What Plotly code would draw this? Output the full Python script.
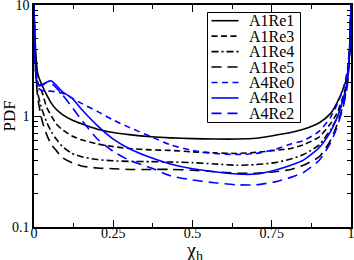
import plotly.graph_objects as go

chi_h = [0, 0.004, 0.012, 0.025, 0.04, 0.055, 0.07, 0.09, 0.12, 0.15, 0.2, 0.25, 0.3,
         0.37, 0.43, 0.5, 0.57, 0.64, 0.7, 0.76, 0.81, 0.85, 0.9, 0.935, 0.955, 0.975,
         0.988, 0.996, 1.0]

A1Re1 = [10, 4.5, 2.4, 1.9, 1.55, 1.3, 1.15, 1.03, 0.92, 0.85, 0.76, 0.71, 0.68,
         0.65, 0.635, 0.625, 0.62, 0.62, 0.63, 0.67, 0.71, 0.76, 0.87, 1.05, 1.3, 1.75,
         2.3, 4, 10]
A1Re3 = [10, 3.5, 2.0, 1.65, 1.2, 1.0, 0.85, 0.75, 0.66, 0.61, 0.56, 0.53, 0.51,
         0.495, 0.49, 0.475, 0.465, 0.46, 0.47, 0.49, 0.51, 0.55, 0.65, 0.85, 1.05, 1.5,
         2.1, 4, 10]
A1Re4 = [10, 3.0, 1.6, 1.15, 0.88, 0.72, 0.62, 0.53, 0.46, 0.43, 0.405, 0.395, 0.39,
         0.388, 0.385, 0.38, 0.37, 0.36, 0.365, 0.38, 0.41, 0.45, 0.55, 0.75, 0.95, 1.4,
         2.0, 4, 10]
A1Re5 = [10, 2.8, 1.45, 0.92, 0.68, 0.55, 0.49, 0.42, 0.38, 0.355, 0.34, 0.335, 0.33,
         0.33, 0.33, 0.325, 0.315, 0.305, 0.305, 0.315, 0.33, 0.36, 0.43, 0.6, 0.82, 1.25,
         1.9, 4, 10]
A4Re0 = [10, 3.0, 1.8, 1.7, 1.68, 1.67, 1.65, 1.6, 1.45, 1.3, 1.1, 0.92, 0.79,
         0.65, 0.55, 0.49, 0.46, 0.45, 0.46, 0.5, 0.56, 0.6, 0.73, 0.97, 1.25, 1.75,
         2.5, 4.5, 10]
A4Re1 = [10, 3.0, 1.9, 1.88, 2.02, 2.07, 1.9, 1.65, 1.45, 1.15, 0.82, 0.62, 0.51,
         0.42, 0.37, 0.335, 0.315, 0.30, 0.30, 0.325, 0.36, 0.40, 0.52, 0.72, 0.95, 1.4,
         2.0, 4, 10]
A4Re2 = [10, 3.0, 1.9, 1.92, 2.0, 1.97, 1.8, 1.55, 1.2, 0.92, 0.62, 0.48, 0.40,
         0.34, 0.29, 0.265, 0.25, 0.24, 0.24, 0.255, 0.28, 0.31, 0.40, 0.57, 0.78, 1.2,
         1.85, 4, 10]

x_ticks = [0, 0.25, 0.5, 0.75, 1]
x_ticklabels = ["0", "0.25", "0.5", "0.75", "1"]
x_minor = [0.125, 0.375, 0.625, 0.875]
y_ticks = [0.1, 1, 10]
y_ticklabels = ["0.1", "1", "10"]
y_minor = [0.2, 0.3, 0.4, 0.5, 0.6, 0.7, 0.8, 0.9, 2, 3, 4, 5, 6, 7, 8, 9]
x_title = "χ<sub>h</sub>"
y_title = "PDF"

series_names = ["A1Re1", "A1Re3", "A1Re4", "A1Re5", "A4Re0", "A4Re1", "A4Re2"]
series_values = [A1Re1, A1Re3, A1Re4, A1Re5, A4Re0, A4Re1, A4Re2]

BLUE = "#0000ff"
styles = {
    "A1Re1": ("black", "solid"),
    "A1Re3": ("black", "6px,3.5px"),
    "A1Re4": ("black", "7px,3px,2px,3px"),
    "A1Re5": ("black", "10px,6px"),
    "A4Re0": (BLUE, "6px,4.5px"),
    "A4Re1": (BLUE, "solid"),
    "A4Re2": (BLUE, "10px,6px"),
}

FONT = "Liberation Serif"

# plot-area geometry in pixels (used only for layout placement)
W, H = 354, 260
ML, MR, MT, MB = 34, 3, 5, 33
PW, PH = W - ML - MR, H - MT - MB


def px_to_paper_x(px):
    return (px - ML) / PW


def py_to_paper_y(py):
    return (H - MB - py) / PH


fig = go.Figure()
for name, vals in zip(series_names, series_values):
    color, dash = styles[name]
    fig.add_trace(go.Scatter(
        x=chi_h, y=vals, mode="lines", name=name, showlegend=False,
        line=dict(color=color, width=1.6, dash=dash, shape="spline", smoothing=0.6),
    ))

# legend box drawn in the plot corner (layout decoration)
shapes = [dict(type="rect", xref="paper", yref="paper",
               x0=px_to_paper_x(207.5), x1=px_to_paper_x(300.5),
               y0=py_to_paper_y(122.5), y1=py_to_paper_y(12.5),
               line=dict(color="black", width=1), fillcolor="white", layer="above")]
annotations = []
row0, row_step = 20.7, 15.45
for i, name in enumerate(series_names):
    color, dash = styles[name]
    yy = py_to_paper_y(row0 + i * row_step)
    shapes.append(dict(type="line", xref="paper", yref="paper",
                       x0=px_to_paper_x(211.5), x1=px_to_paper_x(238.5), y0=yy, y1=yy,
                       line=dict(color=color, width=1.6, dash=dash), layer="above"))
    annotations.append(dict(text=name, xref="paper", yref="paper",
                            x=px_to_paper_x(247), y=yy, xanchor="left", yanchor="middle",
                            showarrow=False, font=dict(family=FONT, size=16, color="black")))

# x-axis title placed just under the tick labels
annotations.append(dict(text=x_title, xref="paper", yref="paper",
                        x=px_to_paper_x(194), y=py_to_paper_y(251),
                        xanchor="center", yanchor="middle", showarrow=False,
                        font=dict(family=FONT, size=20, color="black")))

fig.update_layout(
    width=W, height=H,
    margin=dict(l=ML, r=MR, t=MT, b=MB),
    paper_bgcolor="white", plot_bgcolor="white",
    font=dict(family=FONT, size=14, color="black"),
    showlegend=False,
    shapes=shapes,
    annotations=annotations,
)

fig.update_xaxes(
    range=[0, 1], tickmode="array", tickvals=x_ticks, ticktext=x_ticklabels,
    ticks="inside", ticklen=7, tickwidth=1, tickcolor="black",
    showline=True, linecolor="black", linewidth=1.5, mirror="ticks",
    showgrid=False, zeroline=False, automargin=False, ticklabeloverflow="allow",
    ticklabelstandoff=-8,
    minor=dict(tickvals=x_minor, ticks="inside", ticklen=4,
               tickcolor="black", showgrid=False),
    tickfont=dict(family=FONT, size=14),
)
fig.update_yaxes(
    type="log", range=[-1, 1], tickmode="array", tickvals=y_ticks, ticktext=y_ticklabels,
    ticks="inside", ticklen=7, tickwidth=1, tickcolor="black",
    showline=True, linecolor="black", linewidth=1.5, mirror="ticks",
    showgrid=False, zeroline=False, automargin=False, ticklabeloverflow="allow",
    minor=dict(tickvals=y_minor, ticks="inside", ticklen=4, tickcolor="black", showgrid=False),
    tickfont=dict(family=FONT, size=14),
    title=dict(text=y_title, font=dict(family=FONT, size=17)),
)

# remove the browser's default 8px page margin so the figure sits at the window origin
fig.write_html("out.html",
               config={"displayModeBar": False},
               post_script="document.body.style.margin='0';document.body.style.padding='0';")
